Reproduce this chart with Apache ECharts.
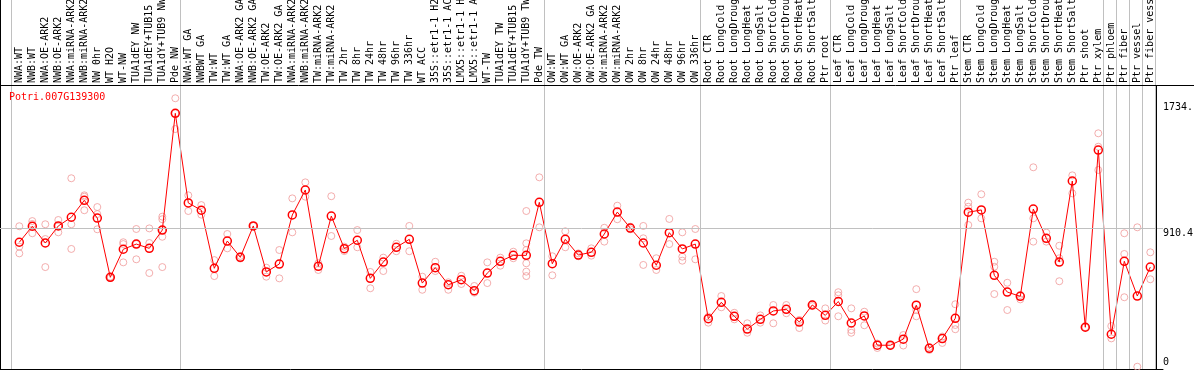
<!DOCTYPE html>
<html><head><meta charset="utf-8">
<script src="https://cdn.jsdelivr.net/npm/echarts@6/dist/echarts.min.js"></script>
<style>html,body{margin:0;padding:0;background:#fff}#c{width:1194px;height:370px}</style>
</head><body><div id="c"></div>
<script>
const geneName = 'Potri.007G139300';
const categories = [
'NWA:WT','NWB:WT','NWA:OE-ARK2','NWB:OE-ARK2','NWA:miRNA-ARK2','NWB:miRNA-ARK2','NW 0hr','WT H2O','WT-NW','TUA1dEY NW','TUA1dEY+TUB15 NW','TUA1dY+TUB9 NW','Pde NW',
'NWA:WT GA','NWBWT GA','TW:WT','TW:WT GA','NWA:OE-ARK2 GA','NWB:OE-ARK2 GA','TW:OE-ARK2','TW:OE-ARK2 GA','NWA:miRNA-ARK2 GA','NWB:miRNA-ARK2 GA','TW:miRNA-ARK2','TW:miRNA-ARK2 GA','TW 2hr','TW 8hr','TW 24hr','TW 48hr','TW 96hr','TW 336hr','WT ACC','35S::etr1-1 H2O','35S::etr1-1 ACC','LMX5::etr1-1 H2O','LMX5::etr1-1 ACC','WT-TW','TUA1dEY TW','TUA1dEY+TUB15 TW','TUA1dY+TUB9 TW','Pde TW',
'OW:WT','OW:WT GA','OW:OE-ARK2','OW:OE-ARK2 GA','OW:miRNA-ARK2','OW:miRNA-ARK2 GA','OW 2hr','OW 8hr','OW 24hr','OW 48hr','OW 96hr','OW 336hr',
'Root CTR','Root LongCold','Root LongDrought','Root LongHeat','Root LongSalt','Root ShortCold','Root ShortDrought','Root ShortHeat','Root ShortSalt','Ptr root',
'Leaf CTR','Leaf LongCold','Leaf LongDrought','Leaf LongHeat','Leaf LongSalt','Leaf ShortCold','Leaf ShortDrought','Leaf ShortHeat','Leaf ShortSalt','Ptr leaf',
'Stem CTR','Stem LongCold','Stem LongDrought','Stem LongHeat','Stem LongSalt','Stem ShortCold','Stem ShortDrought','Stem ShortHeat','Stem ShortSalt','Ptr shoot','Ptr xylem',
'Ptr phloem','Ptr fiber','Ptr vessel','Ptr fiber vessel'
];
const groupStarts = [0,13,41,53,63,73,84,85,86,87,88];
const means = [
819,924,814,926,983,1094,978,589,773,807,779,899,1665,
1077,1029,648,827,720,926,624,676,998,1162,661,991,777,832,582,689,786,838,551,652,540,573,501,617,694,733,733,1081,
678,838,735,753,873,1017,912,814,668,882,775,807,
317,425,333,249,313,368,379,295,407,339,
430,289,335,143,143,183,406,123,187,320,
1016,1031,602,492,464,1037,845,689,1221,261,1424,
215,694,466,656
];
const replicates = [
[924,790,746],[958,939,878],[937,840,656],[965,926,884],[1239,937,775],[1127,1118,1029],[1050,1004,904],[593,589,584],[819,807,687],[906,807,707],[910,814,617],[987,970,899,855,656],[1764,1665,1562],
[1127,1024],[1063,1000],[702,597],[873,779],[729,712],[926,926],[652,593],[768,582],[1107,884],[1212,1118],[681,637],[1121,860],[790,761],[899,786],[624,517],[718,630],[809,760],[926,760],[593,507],[691,630],[556,507],[599,545],[532,488],[687,551],[718,665],[757,714],[1024,812,768,681,626,597],[1245,917],
[727,602],[891,786],[746,727],[779,731],[914,823],[1059,970],[921,904],[926,845,670],[714,637],[972,807],[884,724,698],[906,707],
[330,291],[466,392],[356,313],[287,225],[339,291],[407,287],[407,353],[309,256],[412,400],[385,305],
[491,471,333],[385,243,225],[363,274],[154,125],[144,138],[210,141],[511,374,333],[131,112],[200,158],[412,276,248],
[1079,1052,932],[1134,976],[691,658,479],[553,374],[473,444],[1311,976,823],[882,823],[796,714,563],[1258,1140],[261,261],[1534,1446,1293],
[269,188],[878,742,458],[917,2],[753,576]
];
const yTickValues = [910.4, 1734.5];
const yTickLabels = ['910.4', '1734.'];
const yBottomTickValues = [0];
const yBottomTickLabels = ['0'];
const refLineValue = 910.4;

const FONT = 'DejaVu Sans Mono';
const X_MIN = -1.485, X_MAX = 87.977, Y_MIN = -13, Y_MAX = 2409, HEADER_VALUE = 1851;

const chart = echarts.init(document.getElementById('c'), null, {renderer: 'canvas'});
const sepLines = groupStarts.map(s => ({xAxis: s - 0.615, lineStyle: {color: '#c0c0c0', width: 1, type: 'solid'}}));
const option = {
  animation: false,
  backgroundColor: '#fff',
  title: {text: geneName, left: 9, top: 92, padding: 0,
    textStyle: {color: '#ff0000', fontSize: 10, fontWeight: 'normal', fontFamily: FONT}},
  grid: {left: 0, right: 31, top: 0, bottom: 1, containLabel: false, outerBoundsMode: 'none'},
  xAxis: [
    {type: 'value', position: 'top', offset: -85, min: X_MIN, max: X_MAX,
      axisLine: {show: false, onZero: false}, axisTick: {show: false}, splitLine: {show: false},
      axisLabel: {customValues: categories.map((_, i) => i), formatter: v => categories[Math.round(v)],
        rotate: -90, margin: 2, fontFamily: FONT, fontSize: 10, color: '#000', hideOverlap: false}},
    {type: 'value', position: 'bottom', min: X_MIN, max: X_MAX,
      axisLine: {show: true, onZero: false, lineStyle: {color: '#000', width: 1}},
      axisTick: {show: false}, axisLabel: {show: false}, splitLine: {show: false}}
  ],
  yAxis: [
    {type: 'value', position: 'right', min: Y_MIN, max: Y_MAX,
      axisLine: {show: false, onZero: false}, axisTick: {show: false}, splitLine: {show: false},
      axisLabel: {customValues: yTickValues, formatter: v => yTickLabels[yTickValues.indexOf(v)],
        verticalAlign: 'top', margin: 0, fontFamily: FONT, fontSize: 10, color: '#000'}},
    {type: 'value', position: 'right', min: Y_MIN, max: Y_MAX,
      axisLine: {show: false, onZero: false}, axisTick: {show: false}, splitLine: {show: false},
      axisLabel: {customValues: yBottomTickValues, formatter: v => yBottomTickLabels[yBottomTickValues.indexOf(v)],
        verticalAlign: 'bottom', margin: 0, fontFamily: FONT, fontSize: 10, color: '#000'}},
    {type: 'value', position: 'left', min: Y_MIN, max: Y_MAX,
      axisLine: {show: true, onZero: false, lineStyle: {color: '#000', width: 1}},
      axisTick: {show: false}, axisLabel: {show: false}, splitLine: {show: false}}
  ],
  graphic: [
    {type: 'line', shape: {x1: 0, y1: 85.5, x2: 1194, y2: 85.5}, style: {stroke: '#000', lineWidth: 1}, z: 10}
  ],
  series: [
    {type: 'scatter', name: 'replicates', xAxisIndex: 0, yAxisIndex: 0, z: 2, silent: true,
      data: replicates.flatMap((arr, i) => arr.map(v => [i, v])),
      symbol: 'circle', symbolSize: 7,
      itemStyle: {color: 'rgba(0,0,0,0)', borderColor: '#f09a9a', borderWidth: 1},
      markLine: {silent: true, symbol: 'none', label: {show: false}, animation: false,
        data: sepLines.concat([
          {yAxis: refLineValue, lineStyle: {color: '#c0c0c0', width: 1, type: 'solid'}},
          [{coord: [87.42, Y_MIN], lineStyle: {color: '#000', width: 1, type: 'solid'}}, {coord: [87.42, HEADER_VALUE]}]
        ])}
    },
    {type: 'line', name: 'mean', xAxisIndex: 0, yAxisIndex: 0, z: 3, silent: true,
      data: means.map((v, i) => [i, v]), showAllSymbol: true,
      symbol: 'circle', symbolSize: 8,
      itemStyle: {color: 'rgba(0,0,0,0)', borderColor: '#ff0000', borderWidth: 1.5},
      lineStyle: {color: '#ff0000', width: 1}
    }
  ]
};
chart.setOption(option);
</script>
</body></html>
